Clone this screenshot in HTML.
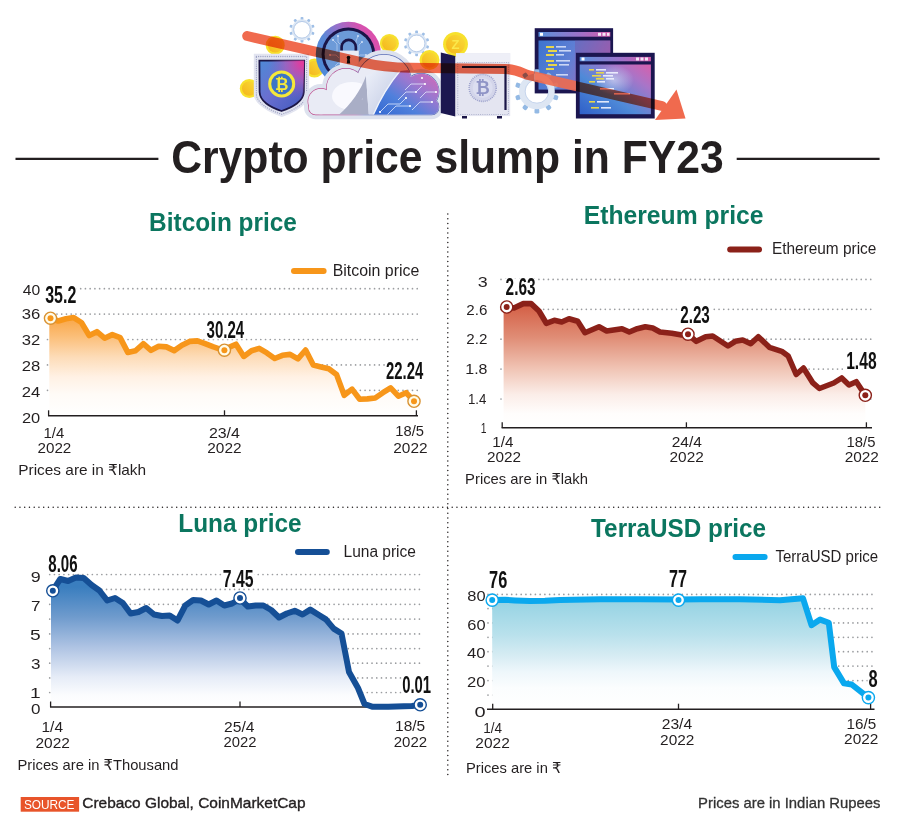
<!DOCTYPE html>
<html><head><meta charset="utf-8"><title>Crypto price slump in FY23</title>
<style>
html,body{margin:0;padding:0;background:#fff;width:900px;height:827px;overflow:hidden}
svg{display:block}
</style></head><body>
<svg width="900" height="827" viewBox="0 0 900 827">
<defs>
<linearGradient id="gbtc" gradientUnits="userSpaceOnUse" x1="0" y1="318" x2="0" y2="416"><stop offset="0" stop-color="#f9a646"/><stop offset="0.2" stop-color="#fbc07c"/><stop offset="0.4" stop-color="#fddcb8"/><stop offset="0.6" stop-color="#fff1e4"/><stop offset="0.78" stop-color="#fffbf7"/><stop offset="1" stop-color="#ffffff"/></linearGradient>
<linearGradient id="geth" gradientUnits="userSpaceOnUse" x1="0" y1="308" x2="0" y2="428"><stop offset="0" stop-color="#d5634a"/><stop offset="0.25" stop-color="#e08e77"/><stop offset="0.5" stop-color="#f0c3b3"/><stop offset="0.72" stop-color="#fbede8"/><stop offset="0.88" stop-color="#fffdfc"/><stop offset="1" stop-color="#ffffff"/></linearGradient>
<linearGradient id="gluna" gradientUnits="userSpaceOnUse" x1="0" y1="587" x2="0" y2="707"><stop offset="0" stop-color="#3a7ebf"/><stop offset="0.25" stop-color="#6f9bcd"/><stop offset="0.5" stop-color="#aec3e3"/><stop offset="0.75" stop-color="#e6ecf7"/><stop offset="0.9" stop-color="#fbfcfe"/><stop offset="1" stop-color="#ffffff"/></linearGradient>
<linearGradient id="gterra" gradientUnits="userSpaceOnUse" x1="0" y1="603" x2="0" y2="709"><stop offset="0" stop-color="#98d4e4"/><stop offset="0.3" stop-color="#b9e1ec"/><stop offset="0.5" stop-color="#d7ecf3"/><stop offset="0.65" stop-color="#eef7fb"/><stop offset="0.8" stop-color="#fbfdfe"/><stop offset="1" stop-color="#ffffff"/></linearGradient>
</defs>
<rect width="900" height="827" fill="#fff"/>
<defs><linearGradient id="coinG" x1="0" y1="1" x2="1" y2="0"><stop offset="0" stop-color="#f4b41c"/><stop offset="1" stop-color="#f9dc36"/></linearGradient>
<linearGradient id="shieldG" x1="0" y1="0" x2="1" y2="1">
<stop offset="0" stop-color="#4d8ad6"/><stop offset="0.45" stop-color="#6a6fd0"/><stop offset="1" stop-color="#3f58bd"/></linearGradient>
<radialGradient id="shieldP" cx="0.95" cy="0.05" r="0.75"><stop offset="0" stop-color="#e8389a"/><stop offset="0.5" stop-color="#b85ab8" stop-opacity="0.6"/><stop offset="1" stop-color="#8060c0" stop-opacity="0"/></radialGradient>
<linearGradient id="ringG" x1="0" y1="0.75" x2="1" y2="0.25">
<stop offset="0" stop-color="#4a8ad8"/><stop offset="0.3" stop-color="#5a88d6"/><stop offset="0.55" stop-color="#9a6fca"/><stop offset="0.8" stop-color="#d352b0"/><stop offset="1" stop-color="#df4eaa"/></linearGradient>
<linearGradient id="cloudC" x1="0" y1="1" x2="1" y2="0">
<stop offset="0" stop-color="#2f64d0"/><stop offset="0.35" stop-color="#4f80dc"/><stop offset="0.6" stop-color="#9a78d0"/><stop offset="0.85" stop-color="#d068b8"/><stop offset="1" stop-color="#e070b0"/></linearGradient>
<linearGradient id="monC" x1="0" y1="0" x2="1" y2="0.3">
<stop offset="0" stop-color="#3d74cf"/><stop offset="0.5" stop-color="#5f7fd4"/><stop offset="1" stop-color="#a866b8"/></linearGradient>
<linearGradient id="monC2" x1="0" y1="1" x2="1" y2="0">
<stop offset="0" stop-color="#2f5fc8"/><stop offset="0.4" stop-color="#4f8ad8"/><stop offset="0.75" stop-color="#a875c8"/><stop offset="1" stop-color="#d85fac"/></linearGradient>
<linearGradient id="barG" x1="0" y1="0" x2="1" y2="0">
<stop offset="0" stop-color="#5a92dc"/><stop offset="0.6" stop-color="#a070c8"/><stop offset="1" stop-color="#d45aaa"/></linearGradient>

<radialGradient id="glowG"><stop offset="0" stop-color="#eaf0ff" stop-opacity="0.55"/><stop offset="1" stop-color="#eaf0ff" stop-opacity="0"/></radialGradient>
<linearGradient id="flapG" x1="0" y1="0" x2="1" y2="1"><stop offset="0" stop-color="#eef1fa"/><stop offset="0.6" stop-color="#cfd6ea"/><stop offset="1" stop-color="#b7c0dc"/></linearGradient>
<clipPath id="cloudIn"><circle cx="321" cy="101.5" r="12.8" /><circle cx="346" cy="88" r="19.3" /><circle cx="384" cy="82" r="27.3" /><circle cx="421" cy="91.5" r="17.8" /><rect x="308.8" y="99.2" width="129.8" height="15.3" rx="6.8" /></clipPath>
<linearGradient id="olG" gradientUnits="userSpaceOnUse" x1="305" y1="0" x2="442" y2="0"><stop offset="0" stop-color="#c24e8c"/><stop offset="0.36" stop-color="#b0559a"/><stop offset="0.44" stop-color="#5d70b8"/><stop offset="1" stop-color="#5a6cb4"/></linearGradient>
<clipPath id="m1only"><path d="M534.7,28.2 L613.1,28.2 L613.1,52.8 L575.9,52.8 L575.9,93.4 L534.7,93.4 Z"/></clipPath>
<clipPath id="notm1"><path clip-rule="evenodd" d="M0,0 L900,0 L900,135 L0,135 Z M534.7,28.2 L613.1,28.2 L613.1,52.8 L575.9,52.8 L575.9,93.4 L534.7,93.4 Z"/></clipPath></defs>
<rect x="300.6" y="17" width="2.8" height="3.1" rx="0.84" fill="#9fbfe6" transform="rotate(0 302 29.8)"/>
<rect x="300.6" y="17" width="2.8" height="3.1" rx="0.84" fill="#9fbfe6" transform="rotate(36 302 29.8)"/>
<rect x="300.6" y="17" width="2.8" height="3.1" rx="0.84" fill="#9fbfe6" transform="rotate(72 302 29.8)"/>
<rect x="300.6" y="17" width="2.8" height="3.1" rx="0.84" fill="#9fbfe6" transform="rotate(108 302 29.8)"/>
<rect x="300.6" y="17" width="2.8" height="3.1" rx="0.84" fill="#9fbfe6" transform="rotate(144 302 29.8)"/>
<rect x="300.6" y="17" width="2.8" height="3.1" rx="0.84" fill="#9fbfe6" transform="rotate(180 302 29.8)"/>
<rect x="300.6" y="17" width="2.8" height="3.1" rx="0.84" fill="#9fbfe6" transform="rotate(216 302 29.8)"/>
<rect x="300.6" y="17" width="2.8" height="3.1" rx="0.84" fill="#9fbfe6" transform="rotate(252 302 29.8)"/>
<rect x="300.6" y="17" width="2.8" height="3.1" rx="0.84" fill="#9fbfe6" transform="rotate(288 302 29.8)"/>
<rect x="300.6" y="17" width="2.8" height="3.1" rx="0.84" fill="#9fbfe6" transform="rotate(324 302 29.8)"/>
<circle cx="302" cy="29.8" r="9.2" fill="none" stroke="#dbe6f4" stroke-width="2.6"/>
<circle cx="302" cy="29.8" r="8.4" fill="none" stroke="#b4cae8" stroke-width="0.9"/>
<rect x="415.2" y="30.6" width="2.8" height="3.1" rx="0.84" fill="#9fbfe6" transform="rotate(0 416.6 43.4)"/>
<rect x="415.2" y="30.6" width="2.8" height="3.1" rx="0.84" fill="#9fbfe6" transform="rotate(36 416.6 43.4)"/>
<rect x="415.2" y="30.6" width="2.8" height="3.1" rx="0.84" fill="#9fbfe6" transform="rotate(72 416.6 43.4)"/>
<rect x="415.2" y="30.6" width="2.8" height="3.1" rx="0.84" fill="#9fbfe6" transform="rotate(108 416.6 43.4)"/>
<rect x="415.2" y="30.6" width="2.8" height="3.1" rx="0.84" fill="#9fbfe6" transform="rotate(144 416.6 43.4)"/>
<rect x="415.2" y="30.6" width="2.8" height="3.1" rx="0.84" fill="#9fbfe6" transform="rotate(180 416.6 43.4)"/>
<rect x="415.2" y="30.6" width="2.8" height="3.1" rx="0.84" fill="#9fbfe6" transform="rotate(216 416.6 43.4)"/>
<rect x="415.2" y="30.6" width="2.8" height="3.1" rx="0.84" fill="#9fbfe6" transform="rotate(252 416.6 43.4)"/>
<rect x="415.2" y="30.6" width="2.8" height="3.1" rx="0.84" fill="#9fbfe6" transform="rotate(288 416.6 43.4)"/>
<rect x="415.2" y="30.6" width="2.8" height="3.1" rx="0.84" fill="#9fbfe6" transform="rotate(324 416.6 43.4)"/>
<circle cx="416.6" cy="43.4" r="9.2" fill="none" stroke="#dbe6f4" stroke-width="2.6"/>
<circle cx="416.6" cy="43.4" r="8.4" fill="none" stroke="#b4cae8" stroke-width="0.9"/>
<circle cx="275.2" cy="45.2" r="9.5" fill="#f7e12c"/>
<circle cx="275.2" cy="45.2" r="7.32" fill="url(#coinG)"/>
<circle cx="249.3" cy="88.5" r="9.5" fill="#f7e12c"/>
<circle cx="249.3" cy="88.5" r="7.32" fill="url(#coinG)"/>
<circle cx="314.5" cy="68" r="9.5" fill="#f7e12c"/>
<circle cx="314.5" cy="68" r="7.32" fill="url(#coinG)"/>
<circle cx="389.4" cy="43.4" r="9.5" fill="#f7e12c"/>
<circle cx="389.4" cy="43.4" r="7.32" fill="url(#coinG)"/>
<circle cx="429.5" cy="60" r="10" fill="#f7e12c"/>
<circle cx="429.5" cy="60" r="7.7" fill="url(#coinG)"/>
<path d="M253.8,53.8 L309.2,53.8 L309.2,94 C309.2,104 296,112 281.8,117 C267.5,112 253.8,104 253.8,94 Z" fill="#e2e4f0"/>
<path d="M256.4,56.5 L306.6,56.5 L306.6,94 C306.6,102.5 295,110 281.8,114.3 C268.5,110 256.4,102.5 256.4,94 Z" fill="none" stroke="#9ea3c4" stroke-width="1.3" stroke-dasharray="0.01 2.2" stroke-linecap="round"/>
<path d="M259.4,60.6 L304.2,60.6 L303.8,92 C303.5,101 293,107.5 281.5,111 C270,107.5 259.8,101 259.6,92 Z" fill="url(#shieldG)" stroke="#1b1646" stroke-width="1.8"/>
<path d="M259.4,60.6 L304.2,60.6 L303.8,92 C303.5,101 293,107.5 281.5,111 C270,107.5 259.8,101 259.6,92 Z" fill="url(#shieldP)"/>
<circle cx="281.7" cy="83.9" r="12" fill="#3c74c6" stroke="#f5e83a" stroke-width="3"/>
<text x="281.7" y="89.8" font-size="16.5" font-weight="bold" fill="#f5e83a" text-anchor="middle" font-family='"Liberation Sans", sans-serif'>₿</text>
<circle cx="348.4" cy="54.3" r="32.6" fill="url(#ringG)"/>
<circle cx="348.4" cy="54.3" r="26.8" fill="#1a1548"/>
<circle cx="348.4" cy="54.3" r="23.8" fill="#6c9ad8"/>
<g stroke="#b9d0f0" stroke-width="0.8" fill="none" opacity="0.9"><path d="M333,40 l4,4 l0,8 M338,36 l0,6 l3,3 M358,36 l-2,5 l0,6 M362,42 l-3,3 l0,6 M330,55 l6,0 l3,3 M366,55 l-6,0 l-3,3 M335,66 l3,-3 l4,0 M362,66 l-3,-3 l-4,0"/></g>
<g fill="#d8e6fa"><circle cx="333" cy="40" r="0.9"/><circle cx="358" cy="36" r="0.9"/><circle cx="362" cy="42" r="0.9"/><circle cx="330" cy="55" r="0.9"/><circle cx="366" cy="55" r="0.9"/><circle cx="338" cy="36" r="0.9"/></g>
<path d="M341.6,51 L341.6,47 A7.1,7.1 0 0 1 355.8,47 L355.8,51" fill="none" stroke="#1a1548" stroke-width="2.6"/>
<rect x="339.8" y="50.6" width="19" height="16" fill="#e9ebf6"/>
<circle cx="348.5" cy="57.5" r="1.8" fill="#111"/><path d="M347.4,58 L346.8,63.5 L350.2,63.5 L349.6,58 Z" fill="#111"/>
<g fill="#dde2ee" stroke="#dde2ee" stroke-width="3"><circle cx="321" cy="101.5" r="16" /><circle cx="346" cy="88" r="22.5" /><circle cx="384" cy="82" r="30.5" /><circle cx="421" cy="91.5" r="21" /><rect x="305.6" y="96" width="136.2" height="21.7" rx="10" /></g>
<g fill="none" stroke="url(#olG)" stroke-width="1.3"><circle cx="321" cy="101.5" r="12.8" /><circle cx="346" cy="88" r="19.3" /><circle cx="384" cy="82" r="27.3" /><circle cx="421" cy="91.5" r="17.8" /><rect x="308.8" y="99.2" width="129.8" height="15.3" rx="6.8" /></g>
<g fill="#e9ebf5"><circle cx="321" cy="101.5" r="12.8" /><circle cx="346" cy="88" r="19.3" /><circle cx="384" cy="82" r="27.3" /><circle cx="421" cy="91.5" r="17.8" /><rect x="308.8" y="99.2" width="129.8" height="15.3" rx="6.8" /></g>
<g clip-path="url(#cloudIn)">
<ellipse cx="352" cy="96" rx="20" ry="14" fill="#fbfbff" opacity="0.9"/>
<path d="M372,118 C379,101 389,84 400,71 L446,66 L446,118 Z" fill="url(#cloudC)"/>
<g stroke="#e6eeff" stroke-width="0.9" fill="none" opacity="0.85"><path d="M380,112 l8,-8 l12,0 l6,-6 M386,116 l10,-10 l14,0 M398,100 l8,-8 l10,0 l6,-6 M405,90 l6,-6 l14,0 M412,110 l8,-8 l12,0 M420,98 l6,-6 l10,0"/></g>
<g fill="#ffffff"><circle cx="406" cy="98" r="1.1"/><circle cx="410" cy="106" r="1.1"/><circle cx="422" cy="78" r="1.1"/><circle cx="425" cy="84" r="1.1"/><circle cx="432" cy="102" r="1.1"/><circle cx="436" cy="92" r="1.1"/><circle cx="380" cy="112" r="1.1"/><circle cx="416" cy="92" r="1.1"/></g>
<path d="M335,118 C350,106 360,92 366,76 L369,118 Z" fill="#a9aec6"/>
<path d="M366,76 C376,70 388,68 400,71 C389,84 379,101 372,118 L369,118 Z" fill="url(#flapG)"/>
<path d="M372,118 C379,101 389,84 400,71" fill="none" stroke="#eef2fb" stroke-width="1.3"/>
</g>
<circle cx="455.5" cy="44.3" r="12.4" fill="#f7e12c"/>
<circle cx="455.5" cy="44.3" r="9.55" fill="url(#coinG)"/>
<text x="455.5" y="49.01" font-size="13.02" font-weight="bold" fill="#fbe84c" text-anchor="middle" font-family='"Liberation Sans", sans-serif'>Z</text>
<rect x="456" y="53.2" width="54.2" height="62.9" fill="#e4e5f1"/>
<rect x="456" y="53.2" width="54.2" height="9" fill="#eeeff7"/>
<rect x="457.8" y="62.5" width="50.6" height="52" fill="none" stroke="#a7abc8" stroke-width="1.1" stroke-dasharray="0.01 2.2" stroke-linecap="round"/>
<path d="M462,67 L505.5,67 L505.5,110" fill="none" stroke="#1b1648" stroke-width="2.2"/>
<circle cx="482.7" cy="87.9" r="13.5" fill="#d3d5ea" stroke="#9da2cc" stroke-width="1.6" stroke-dasharray="1 1"/>
<circle cx="482.7" cy="87.9" r="10" fill="#dcdef0"/>
<text x="482.7" y="94.2" font-size="17.5" font-weight="bold" fill="#8f94c6" text-anchor="middle" font-family='"Liberation Sans", sans-serif'>₿</text>
<rect x="462" y="116" width="5" height="2.5" fill="#1b1648"/><rect x="497" y="116" width="5" height="2.5" fill="#1b1648"/>
<polygon points="440.8,52.5 455.3,56 455.3,116.5 440.8,113" fill="#1c1850"/>
<rect x="534.7" y="28.2" width="78.4" height="65.2" fill="#1b1650"/>
<rect x="538.5" y="32" width="71.8" height="4.7" fill="url(#barG)"/>
<rect x="540" y="32.8" width="3" height="3" fill="#fff"/><rect x="598" y="32.8" width="3" height="3" fill="#f2e6f6"/><rect x="602.5" y="32.8" width="3" height="3" fill="#f2e6f6"/><rect x="607" y="32.8" width="2.5" height="3" fill="#f2e6f6"/>
<rect x="538.5" y="40.5" width="71.8" height="49.1" fill="url(#monC)"/>
<rect x="575" y="40.5" width="35.3" height="49.1" fill="#7b4c9e" opacity="0.35"/>
<g fill="#e8d64a"><rect x="546" y="46" width="8" height="2"/><rect x="548" y="50" width="9" height="2"/><rect x="546" y="54" width="8" height="2"/><rect x="546" y="60" width="8" height="2"/><rect x="548" y="64" width="9" height="2"/><rect x="546" y="68" width="8" height="2"/></g>
<g fill="#dfe6fa" opacity="0.85"><rect x="556" y="46" width="10" height="1.6"/><rect x="559" y="50" width="12" height="1.6"/><rect x="556" y="54" width="8" height="1.6"/><rect x="556" y="60" width="14" height="1.6"/><rect x="559" y="64" width="10" height="1.6"/><rect x="556" y="74" width="12" height="1.6"/></g>
<rect x="534.5" y="69.2" width="4.8" height="5.1" rx="1.44" fill="#93b9e4" transform="rotate(0 536.9 91.4)"/>
<rect x="534.5" y="69.2" width="4.8" height="5.1" rx="1.44" fill="#93b9e4" transform="rotate(36 536.9 91.4)"/>
<rect x="534.5" y="69.2" width="4.8" height="5.1" rx="1.44" fill="#93b9e4" transform="rotate(72 536.9 91.4)"/>
<rect x="534.5" y="69.2" width="4.8" height="5.1" rx="1.44" fill="#93b9e4" transform="rotate(108 536.9 91.4)"/>
<rect x="534.5" y="69.2" width="4.8" height="5.1" rx="1.44" fill="#93b9e4" transform="rotate(144 536.9 91.4)"/>
<rect x="534.5" y="69.2" width="4.8" height="5.1" rx="1.44" fill="#93b9e4" transform="rotate(180 536.9 91.4)"/>
<rect x="534.5" y="69.2" width="4.8" height="5.1" rx="1.44" fill="#93b9e4" transform="rotate(216 536.9 91.4)"/>
<rect x="534.5" y="69.2" width="4.8" height="5.1" rx="1.44" fill="#93b9e4" transform="rotate(252 536.9 91.4)"/>
<rect x="534.5" y="69.2" width="4.8" height="5.1" rx="1.44" fill="#93b9e4" transform="rotate(288 536.9 91.4)"/>
<rect x="534.5" y="69.2" width="4.8" height="5.1" rx="1.44" fill="#93b9e4" transform="rotate(324 536.9 91.4)"/>
<circle cx="536.9" cy="91.4" r="14.6" fill="none" stroke="#dde6f3" stroke-width="6.6"/>
<circle cx="536.9" cy="91.4" r="11.8" fill="none" stroke="#c4d4ec" stroke-width="0.9"/>
<rect x="575.9" y="52.8" width="78.8" height="65.7" fill="#1b1650"/>
<rect x="579.7" y="56.9" width="71.2" height="4.4" fill="url(#barG)"/>
<rect x="581.5" y="57.5" width="3" height="3" fill="#fff"/><rect x="636" y="57.5" width="3" height="3" fill="#f2e6f6"/><rect x="640.5" y="57.5" width="3" height="3" fill="#f2e6f6"/><rect x="645" y="57.5" width="3" height="3" fill="#f2e6f6"/>
<rect x="579.7" y="64.5" width="71.2" height="49.7" fill="url(#monC2)"/>
<ellipse cx="614" cy="80" rx="20" ry="15" fill="url(#glowG)"/>
<g fill="#e8d64a"><rect x="589" y="69" width="5" height="1.6"/><rect x="596" y="72" width="8" height="1.6"/><rect x="592" y="75" width="9" height="1.6"/><rect x="596" y="78" width="8" height="1.6"/><rect x="589" y="81" width="6" height="1.6"/><rect x="589" y="101" width="6" height="1.6"/><rect x="591" y="107" width="8" height="1.6"/></g>
<g fill="#f1f3ff" opacity="0.9"><rect x="596" y="69" width="10" height="1.6"/><rect x="606" y="72" width="12" height="1.6"/><rect x="603" y="75" width="10" height="1.6"/><rect x="606" y="78" width="8" height="1.6"/><rect x="597" y="81" width="8" height="1.6"/><rect x="597" y="101" width="12" height="1.6"/><rect x="601" y="107" width="10" height="1.6"/><rect x="600" y="88" width="14" height="1.6"/><rect x="614" y="93" width="16" height="1.6"/></g>
<g clip-path="url(#notm1)" style="mix-blend-mode:multiply"><path d="M247.2,36 L300,48.2 L362,62.3 C378,66 392,67.5 410,67.8 L505,69 C515,69 520,72 528,75 L662,106" fill="none" stroke="#f06a4e" stroke-width="10" stroke-linecap="round" stroke-linejoin="round"/><polygon points="676.5,89.5 655,120 685.5,118.5" fill="#f06a4e"/></g>
<g clip-path="url(#m1only)" opacity="0.9"><path d="M247.2,36 L300,48.2 L362,62.3 C378,66 392,67.5 410,67.8 L505,69 C515,69 520,72 528,75 L662,106" fill="none" stroke="#f06a4e" stroke-width="10" stroke-linecap="round" stroke-linejoin="round"/><polygon points="676.5,89.5 655,120 685.5,118.5" fill="#f06a4e"/></g>
<line x1="15.5" y1="158.9" x2="158.4" y2="158.9" stroke="#231f20" stroke-width="2.3"/>
<line x1="736.7" y1="158.9" x2="879.6" y2="158.9" stroke="#231f20" stroke-width="2.3"/>
<line x1="447.8" y1="214" x2="447.8" y2="778" stroke="#231f20" stroke-width="1.5" stroke-linecap="round" stroke-dasharray="0 4.75"/>
<line x1="15.2" y1="507.2" x2="880.2" y2="507.2" stroke="#231f20" stroke-width="1.5" stroke-linecap="round" stroke-dasharray="0 4.75"/>
<line x1="47.5" y1="288.7" x2="418.7" y2="288.7" stroke="#9b9da0" stroke-width="1.7" stroke-linecap="round" stroke-dasharray="0 4.74"/>
<line x1="47.5" y1="314.1" x2="418.7" y2="314.1" stroke="#9b9da0" stroke-width="1.7" stroke-linecap="round" stroke-dasharray="0 4.74"/>
<line x1="47.5" y1="339.5" x2="418.7" y2="339.5" stroke="#9b9da0" stroke-width="1.7" stroke-linecap="round" stroke-dasharray="0 4.74"/>
<line x1="47.5" y1="364.9" x2="418.7" y2="364.9" stroke="#9b9da0" stroke-width="1.7" stroke-linecap="round" stroke-dasharray="0 4.74"/>
<line x1="47.5" y1="390.3" x2="418.7" y2="390.3" stroke="#9b9da0" stroke-width="1.7" stroke-linecap="round" stroke-dasharray="0 4.74"/>
<path d="M49.3,318.4 L50.5,318.2 L58.2,321 L66,318.8 L73.7,317.6 L81.4,322.5 L89.2,335.5 L96.9,331.7 L104.6,338.2 L112.3,334.6 L120.1,337.6 L127.8,352.4 L135.5,350.8 L143.3,343.7 L151,350.3 L158.7,346.3 L166.4,346.9 L174.2,350.6 L181.9,345.2 L189.6,341.4 L197.4,340.9 L205.1,343.6 L212.8,346.7 L220.6,349.3 L228.3,347.6 L236,344.2 L243.8,356.4 L251.5,350.7 L259.2,348.4 L266.9,352.9 L274.7,358.5 L282.4,355.3 L290.1,354.4 L297.9,358.9 L305.6,350 L313.3,365.1 L321.1,366.9 L328.8,368.7 L336.5,374.4 L344.2,395.3 L352,389.1 L359.7,399.3 L367.4,398.9 L375.2,398 L382.9,392.7 L390.6,387.8 L398.4,396.2 L406.1,392.7 L413.8,401.1 L413.8,415.8 L49.3,415.8 Z" fill="url(#gbtc)"/>
<line x1="48" y1="415.8" x2="418" y2="415.8" stroke="#231f20" stroke-width="1.6"/>
<line x1="48.6" y1="410.3" x2="48.6" y2="415.8" stroke="#231f20" stroke-width="1.3"/>
<line x1="224.5" y1="410.3" x2="224.5" y2="415.8" stroke="#231f20" stroke-width="1.3"/>
<line x1="416.4" y1="410.3" x2="416.4" y2="415.8" stroke="#231f20" stroke-width="1.3"/>
<path d="M49.3,318.4 L50.5,318.2 L58.2,321 L66,318.8 L73.7,317.6 L81.4,322.5 L89.2,335.5 L96.9,331.7 L104.6,338.2 L112.3,334.6 L120.1,337.6 L127.8,352.4 L135.5,350.8 L143.3,343.7 L151,350.3 L158.7,346.3 L166.4,346.9 L174.2,350.6 L181.9,345.2 L189.6,341.4 L197.4,340.9 L205.1,343.6 L212.8,346.7 L220.6,349.3 L228.3,347.6 L236,344.2 L243.8,356.4 L251.5,350.7 L259.2,348.4 L266.9,352.9 L274.7,358.5 L282.4,355.3 L290.1,354.4 L297.9,358.9 L305.6,350 L313.3,365.1 L321.1,366.9 L328.8,368.7 L336.5,374.4 L344.2,395.3 L352,389.1 L359.7,399.3 L367.4,398.9 L375.2,398 L382.9,392.7 L390.6,387.8 L398.4,396.2 L406.1,392.7 L413.8,401.1" fill="none" stroke="#f7961a" stroke-width="5.6" stroke-linejoin="round" stroke-linecap="round"/>
<circle cx="50.5" cy="318.2" r="6.1" fill="#fffbe8" stroke="#d99232" stroke-width="1.4"/>
<circle cx="50.5" cy="318.2" r="3" fill="#f7961a"/>
<circle cx="224.4" cy="350.2" r="6.1" fill="#fffbe8" stroke="#d99232" stroke-width="1.4"/>
<circle cx="224.4" cy="350.2" r="3" fill="#f7961a"/>
<circle cx="414" cy="401.3" r="6.1" fill="#fffbe8" stroke="#d99232" stroke-width="1.4"/>
<circle cx="414" cy="401.3" r="3" fill="#f7961a"/>
<rect x="44.8" y="285.8" width="32" height="18.7" fill="#fff"/>
<rect x="205.5" y="319.8" width="40.3" height="19.5" fill="#fff"/>
<rect x="385" y="361.9" width="39.9" height="18.7" fill="#fff"/>
<line x1="294" y1="271" x2="323.6" y2="271" stroke="#f7961a" stroke-width="6" stroke-linecap="round"/>
<line x1="501" y1="279.4" x2="872" y2="279.4" stroke="#9b9da0" stroke-width="1.7" stroke-linecap="round" stroke-dasharray="0 4.74"/>
<line x1="501" y1="309.3" x2="872" y2="309.3" stroke="#9b9da0" stroke-width="1.7" stroke-linecap="round" stroke-dasharray="0 4.74"/>
<line x1="501" y1="339.2" x2="872" y2="339.2" stroke="#9b9da0" stroke-width="1.7" stroke-linecap="round" stroke-dasharray="0 4.74"/>
<line x1="501" y1="369.1" x2="872" y2="369.1" stroke="#9b9da0" stroke-width="1.7" stroke-linecap="round" stroke-dasharray="0 4.74"/>
<line x1="501" y1="399" x2="872" y2="399" stroke="#9b9da0" stroke-width="1.7" stroke-linecap="round" stroke-dasharray="0 4.74"/>
<path d="M503.6,307 L506.7,307 L514,308 L523.3,303.6 L531.1,303.6 L539,311 L546.3,323.3 L554.3,320.3 L561.7,322 L569,318.7 L577.7,321.3 L585,332.7 L599,326.7 L606.7,331 L622,328.7 L629.3,332 L637.3,328.7 L645.3,326.7 L652.7,328 L660,332 L671.7,333.3 L681.7,335 L688,334.5 L696.3,341.3 L705.7,336.7 L712.7,336 L728,346 L735.3,341.3 L742.7,340 L750.7,343.7 L758.3,336.7 L769.4,347.3 L781.7,351.3 L788.2,356 L796.2,374.5 L803.5,368 L812.9,382.9 L819.4,388.5 L833.7,383 L841.7,378 L849,385 L856.3,381.7 L865.3,395.3 L865.3,427.8 L503.6,427.8 Z" fill="url(#geth)"/>
<line x1="501.6" y1="427.8" x2="872" y2="427.8" stroke="#231f20" stroke-width="1.6"/>
<line x1="502.2" y1="422.3" x2="502.2" y2="427.8" stroke="#231f20" stroke-width="1.3"/>
<line x1="686.4" y1="422.3" x2="686.4" y2="427.8" stroke="#231f20" stroke-width="1.3"/>
<line x1="866.4" y1="422.3" x2="866.4" y2="427.8" stroke="#231f20" stroke-width="1.3"/>
<path d="M503.6,307 L506.7,307 L514,308 L523.3,303.6 L531.1,303.6 L539,311 L546.3,323.3 L554.3,320.3 L561.7,322 L569,318.7 L577.7,321.3 L585,332.7 L599,326.7 L606.7,331 L622,328.7 L629.3,332 L637.3,328.7 L645.3,326.7 L652.7,328 L660,332 L671.7,333.3 L681.7,335 L688,334.5 L696.3,341.3 L705.7,336.7 L712.7,336 L728,346 L735.3,341.3 L742.7,340 L750.7,343.7 L758.3,336.7 L769.4,347.3 L781.7,351.3 L788.2,356 L796.2,374.5 L803.5,368 L812.9,382.9 L819.4,388.5 L833.7,383 L841.7,378 L849,385 L856.3,381.7 L865.3,395.3" fill="none" stroke="#8b2119" stroke-width="5.6" stroke-linejoin="round" stroke-linecap="round"/>
<circle cx="506.7" cy="307" r="6.1" fill="#fff" stroke="#8b2119" stroke-width="1.4"/>
<circle cx="506.7" cy="307" r="3" fill="#8b2119"/>
<circle cx="688" cy="334.2" r="6.1" fill="#fff" stroke="#8b2119" stroke-width="1.4"/>
<circle cx="688" cy="334.2" r="3" fill="#8b2119"/>
<circle cx="865.3" cy="395.3" r="6.1" fill="#fff" stroke="#8b2119" stroke-width="1.4"/>
<circle cx="865.3" cy="395.3" r="3" fill="#8b2119"/>
<rect x="504.4" y="278.8" width="32.1" height="17.8" fill="#fff"/>
<rect x="678.8" y="305.9" width="32.4" height="18.3" fill="#fff"/>
<rect x="845.8" y="351.9" width="31.7" height="18.7" fill="#fff"/>
<line x1="730.2" y1="249.5" x2="759" y2="249.5" stroke="#8b2119" stroke-width="6" stroke-linecap="round"/>
<line x1="49.7" y1="574.5" x2="422.3" y2="574.5" stroke="#9b9da0" stroke-width="1.7" stroke-linecap="round" stroke-dasharray="0 4.74"/>
<line x1="49.7" y1="589.4" x2="422.3" y2="589.4" stroke="#9b9da0" stroke-width="1.7" stroke-linecap="round" stroke-dasharray="0 4.74"/>
<line x1="49.7" y1="604.3" x2="422.3" y2="604.3" stroke="#9b9da0" stroke-width="1.7" stroke-linecap="round" stroke-dasharray="0 4.74"/>
<line x1="49.7" y1="619.1" x2="422.3" y2="619.1" stroke="#9b9da0" stroke-width="1.7" stroke-linecap="round" stroke-dasharray="0 4.74"/>
<line x1="49.7" y1="633.9" x2="422.3" y2="633.9" stroke="#9b9da0" stroke-width="1.7" stroke-linecap="round" stroke-dasharray="0 4.74"/>
<line x1="49.7" y1="648.6" x2="422.3" y2="648.6" stroke="#9b9da0" stroke-width="1.7" stroke-linecap="round" stroke-dasharray="0 4.74"/>
<line x1="49.7" y1="663.2" x2="422.3" y2="663.2" stroke="#9b9da0" stroke-width="1.7" stroke-linecap="round" stroke-dasharray="0 4.74"/>
<line x1="49.7" y1="677.9" x2="422.3" y2="677.9" stroke="#9b9da0" stroke-width="1.7" stroke-linecap="round" stroke-dasharray="0 4.74"/>
<line x1="49.7" y1="692.5" x2="422.3" y2="692.5" stroke="#9b9da0" stroke-width="1.7" stroke-linecap="round" stroke-dasharray="0 4.74"/>
<path d="M51,591 L52.5,590.8 L60.3,579 L68.1,581 L75.9,577.5 L83.7,578 L91.6,585 L99.4,590.5 L107.2,600.5 L115,598 L122.8,603 L130.6,613.5 L138.4,612 L146.2,608 L154,614.5 L161.9,616 L169.7,615.5 L177.5,620.5 L185.3,605.5 L193.1,600 L200.9,600.5 L208.7,604.5 L216.5,600.5 L224.3,605.5 L232.1,603.5 L240,599 L247.8,606.5 L255.6,605.5 L263.4,605.5 L271.2,610 L279,617.5 L286.8,613.5 L294.7,610.8 L302.5,614.5 L310.3,609.6 L318.1,614.5 L325.9,619.4 L333.7,628.6 L341.5,633.5 L349,672 L358,688 L364.5,704 L372.8,706.8 L380.6,706.8 L388.4,706.8 L396.2,706.5 L404,706.2 L411.9,706 L420.2,705 L420.2,707 L51,707 Z" fill="url(#gluna)"/>
<line x1="50" y1="707" x2="420" y2="707" stroke="#231f20" stroke-width="1.6"/>
<line x1="50.6" y1="701.5" x2="50.6" y2="707" stroke="#231f20" stroke-width="1.3"/>
<line x1="240" y1="701.5" x2="240" y2="707" stroke="#231f20" stroke-width="1.3"/>
<line x1="418" y1="701.5" x2="418" y2="707" stroke="#231f20" stroke-width="1.3"/>
<path d="M51,591 L52.5,590.8 L60.3,579 L68.1,581 L75.9,577.5 L83.7,578 L91.6,585 L99.4,590.5 L107.2,600.5 L115,598 L122.8,603 L130.6,613.5 L138.4,612 L146.2,608 L154,614.5 L161.9,616 L169.7,615.5 L177.5,620.5 L185.3,605.5 L193.1,600 L200.9,600.5 L208.7,604.5 L216.5,600.5 L224.3,605.5 L232.1,603.5 L240,599 L247.8,606.5 L255.6,605.5 L263.4,605.5 L271.2,610 L279,617.5 L286.8,613.5 L294.7,610.8 L302.5,614.5 L310.3,609.6 L318.1,614.5 L325.9,619.4 L333.7,628.6 L341.5,633.5 L349,672 L358,688 L364.5,704 L372.8,706.8 L380.6,706.8 L388.4,706.8 L396.2,706.5 L404,706.2 L411.9,706 L420.2,705" fill="none" stroke="#154f96" stroke-width="6" stroke-linejoin="round" stroke-linecap="round"/>
<circle cx="52.8" cy="590.8" r="6.1" fill="#fff" stroke="#154f96" stroke-width="1.4"/>
<circle cx="52.8" cy="590.8" r="3" fill="#154f96"/>
<circle cx="240" cy="598" r="6.1" fill="#fff" stroke="#154f96" stroke-width="1.4"/>
<circle cx="240" cy="598" r="3" fill="#154f96"/>
<circle cx="420.2" cy="704.8" r="6.1" fill="#fff" stroke="#154f96" stroke-width="1.4"/>
<circle cx="420.2" cy="704.8" r="3" fill="#154f96"/>
<rect x="46.7" y="554.5" width="31.7" height="18.7" fill="#fff"/>
<rect x="222.2" y="568.5" width="32.3" height="19.5" fill="#fff"/>
<rect x="401.8" y="675.6" width="30.2" height="18.9" fill="#fff"/>
<line x1="298" y1="552" x2="326.8" y2="552" stroke="#154f96" stroke-width="6" stroke-linecap="round"/>
<line x1="488" y1="594.4" x2="874.5" y2="594.4" stroke="#9b9da0" stroke-width="1.7" stroke-linecap="round" stroke-dasharray="0 4.74"/>
<line x1="488" y1="608.6" x2="874.5" y2="608.6" stroke="#9b9da0" stroke-width="1.7" stroke-linecap="round" stroke-dasharray="0 4.74"/>
<line x1="488" y1="622.9" x2="874.5" y2="622.9" stroke="#9b9da0" stroke-width="1.7" stroke-linecap="round" stroke-dasharray="0 4.74"/>
<line x1="488" y1="637.3" x2="874.5" y2="637.3" stroke="#9b9da0" stroke-width="1.7" stroke-linecap="round" stroke-dasharray="0 4.74"/>
<line x1="488" y1="651.7" x2="874.5" y2="651.7" stroke="#9b9da0" stroke-width="1.7" stroke-linecap="round" stroke-dasharray="0 4.74"/>
<line x1="488" y1="666.1" x2="874.5" y2="666.1" stroke="#9b9da0" stroke-width="1.7" stroke-linecap="round" stroke-dasharray="0 4.74"/>
<line x1="488" y1="680.6" x2="874.5" y2="680.6" stroke="#9b9da0" stroke-width="1.7" stroke-linecap="round" stroke-dasharray="0 4.74"/>
<line x1="488" y1="695.1" x2="874.5" y2="695.1" stroke="#9b9da0" stroke-width="1.7" stroke-linecap="round" stroke-dasharray="0 4.74"/>
<path d="M492.2,600.1 L505,599.8 L515,600.4 L530,601 L545,600.7 L560,600 L600,599.3 L640,599.2 L678.5,599.6 L700,599.2 L740,599.2 L780,600.2 L803,598.3 L811.5,625.2 L820.1,619.6 L828.8,622.8 L834.2,667.1 L844,683.4 L851.7,684.5 L868.4,697.6 L868.4,709.2 L492.2,709.2 Z" fill="url(#gterra)"/>
<line x1="487" y1="709.2" x2="874.5" y2="709.2" stroke="#231f20" stroke-width="1.6"/>
<line x1="492.7" y1="703.7" x2="492.7" y2="709.2" stroke="#231f20" stroke-width="1.3"/>
<line x1="678.5" y1="703.7" x2="678.5" y2="709.2" stroke="#231f20" stroke-width="1.3"/>
<line x1="870.6" y1="703.7" x2="870.6" y2="709.2" stroke="#231f20" stroke-width="1.3"/>
<path d="M492.2,600.1 L505,599.8 L515,600.4 L530,601 L545,600.7 L560,600 L600,599.3 L640,599.2 L678.5,599.6 L700,599.2 L740,599.2 L780,600.2 L803,598.3 L811.5,625.2 L820.1,619.6 L828.8,622.8 L834.2,667.1 L844,683.4 L851.7,684.5 L868.4,697.6" fill="none" stroke="#0aa8ee" stroke-width="6" stroke-linejoin="round" stroke-linecap="round"/>
<circle cx="492.2" cy="600.1" r="6.1" fill="#fff" stroke="#0aa8ee" stroke-width="1.4"/>
<circle cx="492.2" cy="600.1" r="3" fill="#0aa8ee"/>
<circle cx="678.5" cy="600.1" r="6.1" fill="#fff" stroke="#0aa8ee" stroke-width="1.4"/>
<circle cx="678.5" cy="600.1" r="3" fill="#0aa8ee"/>
<circle cx="868.4" cy="697.6" r="6.1" fill="#fff" stroke="#0aa8ee" stroke-width="1.4"/>
<circle cx="868.4" cy="697.6" r="3" fill="#0aa8ee"/>
<rect x="487.9" y="571.1" width="19.9" height="18.5" fill="#fff"/>
<rect x="668" y="569.5" width="20.1" height="18.6" fill="#fff"/>
<rect x="867.6" y="671.7" width="11" height="16.5" fill="#fff"/>
<line x1="735.5" y1="556.9" x2="764.6" y2="556.9" stroke="#0aa8ee" stroke-width="6" stroke-linecap="round"/>
<rect x="20.7" y="797" width="58.4" height="14.7" fill="#e8542a"/>
<text x="171.2" y="173.2" font-size="47" font-weight="bold" fill="#231f20" textLength="552.52" lengthAdjust="spacingAndGlyphs" font-family='"Liberation Sans", "DejaVu Sans", sans-serif'>Crypto price slump in FY23</text>
<text x="149.1" y="230.5" font-size="26" font-weight="bold" fill="#0b765f" textLength="147.83" lengthAdjust="spacingAndGlyphs" font-family='"Liberation Sans", "DejaVu Sans", sans-serif'>Bitcoin price</text>
<text x="583.7" y="223.5" font-size="26" font-weight="bold" fill="#0b765f" textLength="179.82" lengthAdjust="spacingAndGlyphs" font-family='"Liberation Sans", "DejaVu Sans", sans-serif'>Ethereum price</text>
<text x="178.3" y="532.3" font-size="26" font-weight="bold" fill="#0b765f" textLength="123.25" lengthAdjust="spacingAndGlyphs" font-family='"Liberation Sans", "DejaVu Sans", sans-serif'>Luna price</text>
<text x="591.1" y="537.2" font-size="26" font-weight="bold" fill="#0b765f" textLength="175" lengthAdjust="spacingAndGlyphs" font-family='"Liberation Sans", "DejaVu Sans", sans-serif'>TerraUSD price</text>
<text x="332.7" y="275.8" font-size="16" font-weight="normal" fill="#231f20" textLength="86.65" lengthAdjust="spacingAndGlyphs" font-family='"Liberation Sans", "DejaVu Sans", sans-serif'>Bitcoin price</text>
<text x="771.9" y="254.2" font-size="16" font-weight="normal" fill="#231f20" textLength="104.43" lengthAdjust="spacingAndGlyphs" font-family='"Liberation Sans", "DejaVu Sans", sans-serif'>Ethereum price</text>
<text x="343.5" y="557.2" font-size="16" font-weight="normal" fill="#231f20" textLength="72.45" lengthAdjust="spacingAndGlyphs" font-family='"Liberation Sans", "DejaVu Sans", sans-serif'>Luna price</text>
<text x="775.5" y="562" font-size="16" font-weight="normal" fill="#231f20" textLength="102.61" lengthAdjust="spacingAndGlyphs" font-family='"Liberation Sans", "DejaVu Sans", sans-serif'>TerraUSD price</text>
<text x="18.3" y="474.9" font-size="15" font-weight="normal" fill="#231f20" textLength="127.82" lengthAdjust="spacingAndGlyphs" font-family='"Liberation Sans", "DejaVu Sans", sans-serif'>Prices are in ₹lakh</text>
<text x="465.1" y="483.6" font-size="15" font-weight="normal" fill="#231f20" textLength="122.83" lengthAdjust="spacingAndGlyphs" font-family='"Liberation Sans", "DejaVu Sans", sans-serif'>Prices are in ₹lakh</text>
<text x="17.5" y="769.6" font-size="15" font-weight="normal" fill="#231f20" textLength="161.03" lengthAdjust="spacingAndGlyphs" font-family='"Liberation Sans", "DejaVu Sans", sans-serif'>Prices are in ₹Thousand</text>
<text x="465.9" y="772.5" font-size="15" font-weight="normal" fill="#231f20" textLength="95.43" lengthAdjust="spacingAndGlyphs" font-family='"Liberation Sans", "DejaVu Sans", sans-serif'>Prices are in ₹</text>
<text x="23.9" y="809" font-size="13" font-weight="normal" fill="#fff" textLength="50.61" lengthAdjust="spacingAndGlyphs" font-family='"Liberation Sans", "DejaVu Sans", sans-serif'>SOURCE</text>
<text x="82.3" y="808" font-size="14.5" font-weight="normal" fill="#231f20" textLength="223.21" lengthAdjust="spacingAndGlyphs" font-family='"Liberation Sans", "DejaVu Sans", sans-serif' stroke="#231f20" stroke-width="0.35">Crebaco Global, CoinMarketCap</text>
<text x="698.1" y="808" font-size="15" font-weight="normal" fill="#333" textLength="182.41" lengthAdjust="spacingAndGlyphs" font-family='"Liberation Sans", "DejaVu Sans", sans-serif' stroke="#333" stroke-width="0.3">Prices are in Indian Rupees</text>
<text x="45.2" y="303" font-size="23" font-weight="bold" fill="#111" textLength="31.07" lengthAdjust="spacingAndGlyphs" font-family='"Liberation Sans", "DejaVu Sans", sans-serif'>35.2</text>
<text x="206.5" y="337.8" font-size="23" font-weight="bold" fill="#111" textLength="37.71" lengthAdjust="spacingAndGlyphs" font-family='"Liberation Sans", "DejaVu Sans", sans-serif'>30.24</text>
<text x="386" y="379.1" font-size="23" font-weight="bold" fill="#111" textLength="37.17" lengthAdjust="spacingAndGlyphs" font-family='"Liberation Sans", "DejaVu Sans", sans-serif'>22.24</text>
<text x="505.6" y="295.1" font-size="23" font-weight="bold" fill="#111" textLength="29.91" lengthAdjust="spacingAndGlyphs" font-family='"Liberation Sans", "DejaVu Sans", sans-serif'>2.63</text>
<text x="680.2" y="322.7" font-size="23" font-weight="bold" fill="#111" textLength="29.65" lengthAdjust="spacingAndGlyphs" font-family='"Liberation Sans", "DejaVu Sans", sans-serif'>2.23</text>
<text x="846.2" y="369.1" font-size="23" font-weight="bold" fill="#111" textLength="30.36" lengthAdjust="spacingAndGlyphs" font-family='"Liberation Sans", "DejaVu Sans", sans-serif'>1.48</text>
<text x="48.3" y="571.7" font-size="23" font-weight="bold" fill="#111" textLength="29.35" lengthAdjust="spacingAndGlyphs" font-family='"Liberation Sans", "DejaVu Sans", sans-serif'>8.06</text>
<text x="222.8" y="586.5" font-size="23" font-weight="bold" fill="#111" textLength="30.74" lengthAdjust="spacingAndGlyphs" font-family='"Liberation Sans", "DejaVu Sans", sans-serif'>7.45</text>
<text x="402.2" y="693" font-size="23" font-weight="bold" fill="#111" textLength="28.93" lengthAdjust="spacingAndGlyphs" font-family='"Liberation Sans", "DejaVu Sans", sans-serif'>0.01</text>
<text x="489.1" y="588.1" font-size="23" font-weight="bold" fill="#111" textLength="18.2" lengthAdjust="spacingAndGlyphs" font-family='"Liberation Sans", "DejaVu Sans", sans-serif'>76</text>
<text x="669" y="586.6" font-size="23" font-weight="bold" fill="#111" textLength="17.98" lengthAdjust="spacingAndGlyphs" font-family='"Liberation Sans", "DejaVu Sans", sans-serif'>77</text>
<text x="868.4" y="686.7" font-size="23" font-weight="bold" fill="#111" textLength="9.14" lengthAdjust="spacingAndGlyphs" font-family='"Liberation Sans", "DejaVu Sans", sans-serif'>8</text>
<text x="22.7" y="294.5" font-size="15" font-weight="normal" fill="#231f20" textLength="17.44" lengthAdjust="spacingAndGlyphs" font-family='"Liberation Sans", "DejaVu Sans", sans-serif'>40</text>
<text x="21.7" y="319.3" font-size="15" font-weight="normal" fill="#231f20" textLength="18.53" lengthAdjust="spacingAndGlyphs" font-family='"Liberation Sans", "DejaVu Sans", sans-serif'>36</text>
<text x="21.7" y="345.3" font-size="15" font-weight="normal" fill="#231f20" textLength="18.53" lengthAdjust="spacingAndGlyphs" font-family='"Liberation Sans", "DejaVu Sans", sans-serif'>32</text>
<text x="21.7" y="371.3" font-size="15" font-weight="normal" fill="#231f20" textLength="18.53" lengthAdjust="spacingAndGlyphs" font-family='"Liberation Sans", "DejaVu Sans", sans-serif'>28</text>
<text x="21.7" y="396.7" font-size="15" font-weight="normal" fill="#231f20" textLength="18.53" lengthAdjust="spacingAndGlyphs" font-family='"Liberation Sans", "DejaVu Sans", sans-serif'>24</text>
<text x="21.9" y="423" font-size="15" font-weight="normal" fill="#231f20" textLength="18.28" lengthAdjust="spacingAndGlyphs" font-family='"Liberation Sans", "DejaVu Sans", sans-serif'>20</text>
<text x="477.7" y="286.6" font-size="15" font-weight="normal" fill="#231f20" textLength="9.93" lengthAdjust="spacingAndGlyphs" font-family='"Liberation Sans", "DejaVu Sans", sans-serif'>3</text>
<text x="466.3" y="314.5" font-size="15" font-weight="normal" fill="#231f20" textLength="21.07" lengthAdjust="spacingAndGlyphs" font-family='"Liberation Sans", "DejaVu Sans", sans-serif'>2.6</text>
<text x="466.3" y="344.3" font-size="15" font-weight="normal" fill="#231f20" textLength="21.07" lengthAdjust="spacingAndGlyphs" font-family='"Liberation Sans", "DejaVu Sans", sans-serif'>2.2</text>
<text x="465.3" y="374.2" font-size="15" font-weight="normal" fill="#231f20" textLength="22.18" lengthAdjust="spacingAndGlyphs" font-family='"Liberation Sans", "DejaVu Sans", sans-serif'>1.8</text>
<text x="467.9" y="404" font-size="15" font-weight="normal" fill="#231f20" textLength="18.44" lengthAdjust="spacingAndGlyphs" font-family='"Liberation Sans", "DejaVu Sans", sans-serif'>1.4</text>
<text x="480.7" y="433.3" font-size="15" font-weight="normal" fill="#231f20" textLength="5.77" lengthAdjust="spacingAndGlyphs" font-family='"Liberation Sans", "DejaVu Sans", sans-serif'>1</text>
<text x="30.7" y="581.7" font-size="15" font-weight="normal" fill="#231f20" textLength="9.94" lengthAdjust="spacingAndGlyphs" font-family='"Liberation Sans", "DejaVu Sans", sans-serif'>9</text>
<text x="31.1" y="610.8" font-size="15" font-weight="normal" fill="#231f20" textLength="9.48" lengthAdjust="spacingAndGlyphs" font-family='"Liberation Sans", "DejaVu Sans", sans-serif'>7</text>
<text x="30.1" y="639.8" font-size="15" font-weight="normal" fill="#231f20" textLength="10.66" lengthAdjust="spacingAndGlyphs" font-family='"Liberation Sans", "DejaVu Sans", sans-serif'>5</text>
<text x="31.1" y="668.8" font-size="15" font-weight="normal" fill="#231f20" textLength="9.48" lengthAdjust="spacingAndGlyphs" font-family='"Liberation Sans", "DejaVu Sans", sans-serif'>3</text>
<text x="30.1" y="697.9" font-size="15" font-weight="normal" fill="#231f20" textLength="10.66" lengthAdjust="spacingAndGlyphs" font-family='"Liberation Sans", "DejaVu Sans", sans-serif'>1</text>
<text x="31.1" y="714.3" font-size="15" font-weight="normal" fill="#231f20" textLength="9.48" lengthAdjust="spacingAndGlyphs" font-family='"Liberation Sans", "DejaVu Sans", sans-serif'>0</text>
<text x="467.3" y="600.5" font-size="15" font-weight="normal" fill="#231f20" textLength="18.28" lengthAdjust="spacingAndGlyphs" font-family='"Liberation Sans", "DejaVu Sans", sans-serif'>80</text>
<text x="467.3" y="629.9" font-size="15" font-weight="normal" fill="#231f20" textLength="18.28" lengthAdjust="spacingAndGlyphs" font-family='"Liberation Sans", "DejaVu Sans", sans-serif'>60</text>
<text x="467.1" y="658.1" font-size="15" font-weight="normal" fill="#231f20" textLength="18.53" lengthAdjust="spacingAndGlyphs" font-family='"Liberation Sans", "DejaVu Sans", sans-serif'>40</text>
<text x="467.1" y="687" font-size="15" font-weight="normal" fill="#231f20" textLength="18.47" lengthAdjust="spacingAndGlyphs" font-family='"Liberation Sans", "DejaVu Sans", sans-serif'>20</text>
<text x="474.5" y="716.9" font-size="15" font-weight="normal" fill="#231f20" textLength="11.14" lengthAdjust="spacingAndGlyphs" font-family='"Liberation Sans", "DejaVu Sans", sans-serif'>0</text>
<text x="43.5" y="437.6" font-size="15" font-weight="normal" fill="#231f20" textLength="20.73" lengthAdjust="spacingAndGlyphs" font-family='"Liberation Sans", "DejaVu Sans", sans-serif'>1/4</text>
<text x="37.5" y="453.3" font-size="15" font-weight="normal" fill="#231f20" textLength="33.83" lengthAdjust="spacingAndGlyphs" font-family='"Liberation Sans", "DejaVu Sans", sans-serif'>2022</text>
<text x="208.9" y="437.7" font-size="15" font-weight="normal" fill="#231f20" textLength="31.04" lengthAdjust="spacingAndGlyphs" font-family='"Liberation Sans", "DejaVu Sans", sans-serif'>23/4</text>
<text x="207.3" y="452.6" font-size="15" font-weight="normal" fill="#231f20" textLength="34.28" lengthAdjust="spacingAndGlyphs" font-family='"Liberation Sans", "DejaVu Sans", sans-serif'>2022</text>
<text x="395.3" y="436.4" font-size="15" font-weight="normal" fill="#231f20" textLength="28.69" lengthAdjust="spacingAndGlyphs" font-family='"Liberation Sans", "DejaVu Sans", sans-serif'>18/5</text>
<text x="393.3" y="452.5" font-size="15" font-weight="normal" fill="#231f20" textLength="34.27" lengthAdjust="spacingAndGlyphs" font-family='"Liberation Sans", "DejaVu Sans", sans-serif'>2022</text>
<text x="492.3" y="446.7" font-size="15" font-weight="normal" fill="#231f20" textLength="21.11" lengthAdjust="spacingAndGlyphs" font-family='"Liberation Sans", "DejaVu Sans", sans-serif'>1/4</text>
<text x="486.9" y="462.1" font-size="15" font-weight="normal" fill="#231f20" textLength="34.06" lengthAdjust="spacingAndGlyphs" font-family='"Liberation Sans", "DejaVu Sans", sans-serif'>2022</text>
<text x="671.7" y="447.3" font-size="15" font-weight="normal" fill="#231f20" textLength="30.21" lengthAdjust="spacingAndGlyphs" font-family='"Liberation Sans", "DejaVu Sans", sans-serif'>24/4</text>
<text x="669.5" y="462.1" font-size="15" font-weight="normal" fill="#231f20" textLength="34.27" lengthAdjust="spacingAndGlyphs" font-family='"Liberation Sans", "DejaVu Sans", sans-serif'>2022</text>
<text x="846.5" y="446.9" font-size="15" font-weight="normal" fill="#231f20" textLength="28.89" lengthAdjust="spacingAndGlyphs" font-family='"Liberation Sans", "DejaVu Sans", sans-serif'>18/5</text>
<text x="844.7" y="461.9" font-size="15" font-weight="normal" fill="#231f20" textLength="34.25" lengthAdjust="spacingAndGlyphs" font-family='"Liberation Sans", "DejaVu Sans", sans-serif'>2022</text>
<text x="41.5" y="731.6" font-size="15" font-weight="normal" fill="#231f20" textLength="21.51" lengthAdjust="spacingAndGlyphs" font-family='"Liberation Sans", "DejaVu Sans", sans-serif'>1/4</text>
<text x="35.5" y="748" font-size="15" font-weight="normal" fill="#231f20" textLength="34.42" lengthAdjust="spacingAndGlyphs" font-family='"Liberation Sans", "DejaVu Sans", sans-serif'>2022</text>
<text x="224.1" y="731.5" font-size="15" font-weight="normal" fill="#231f20" textLength="30.44" lengthAdjust="spacingAndGlyphs" font-family='"Liberation Sans", "DejaVu Sans", sans-serif'>25/4</text>
<text x="223.5" y="747" font-size="15" font-weight="normal" fill="#231f20" textLength="33" lengthAdjust="spacingAndGlyphs" font-family='"Liberation Sans", "DejaVu Sans", sans-serif'>2022</text>
<text x="395.1" y="731.1" font-size="15" font-weight="normal" fill="#231f20" textLength="30.12" lengthAdjust="spacingAndGlyphs" font-family='"Liberation Sans", "DejaVu Sans", sans-serif'>18/5</text>
<text x="393.7" y="747.4" font-size="15" font-weight="normal" fill="#231f20" textLength="33.42" lengthAdjust="spacingAndGlyphs" font-family='"Liberation Sans", "DejaVu Sans", sans-serif'>2022</text>
<text x="483.3" y="732.9" font-size="15" font-weight="normal" fill="#231f20" textLength="18.82" lengthAdjust="spacingAndGlyphs" font-family='"Liberation Sans", "DejaVu Sans", sans-serif'>1/4</text>
<text x="475.3" y="748.4" font-size="15" font-weight="normal" fill="#231f20" textLength="34.46" lengthAdjust="spacingAndGlyphs" font-family='"Liberation Sans", "DejaVu Sans", sans-serif'>2022</text>
<text x="661.7" y="728.9" font-size="15" font-weight="normal" fill="#231f20" textLength="30.46" lengthAdjust="spacingAndGlyphs" font-family='"Liberation Sans", "DejaVu Sans", sans-serif'>23/4</text>
<text x="660.1" y="744.7" font-size="15" font-weight="normal" fill="#231f20" textLength="34.28" lengthAdjust="spacingAndGlyphs" font-family='"Liberation Sans", "DejaVu Sans", sans-serif'>2022</text>
<text x="846.5" y="729.2" font-size="15" font-weight="normal" fill="#231f20" textLength="29.68" lengthAdjust="spacingAndGlyphs" font-family='"Liberation Sans", "DejaVu Sans", sans-serif'>16/5</text>
<text x="844.1" y="744.4" font-size="15" font-weight="normal" fill="#231f20" textLength="34.24" lengthAdjust="spacingAndGlyphs" font-family='"Liberation Sans", "DejaVu Sans", sans-serif'>2022</text>
</svg>
</body></html>
